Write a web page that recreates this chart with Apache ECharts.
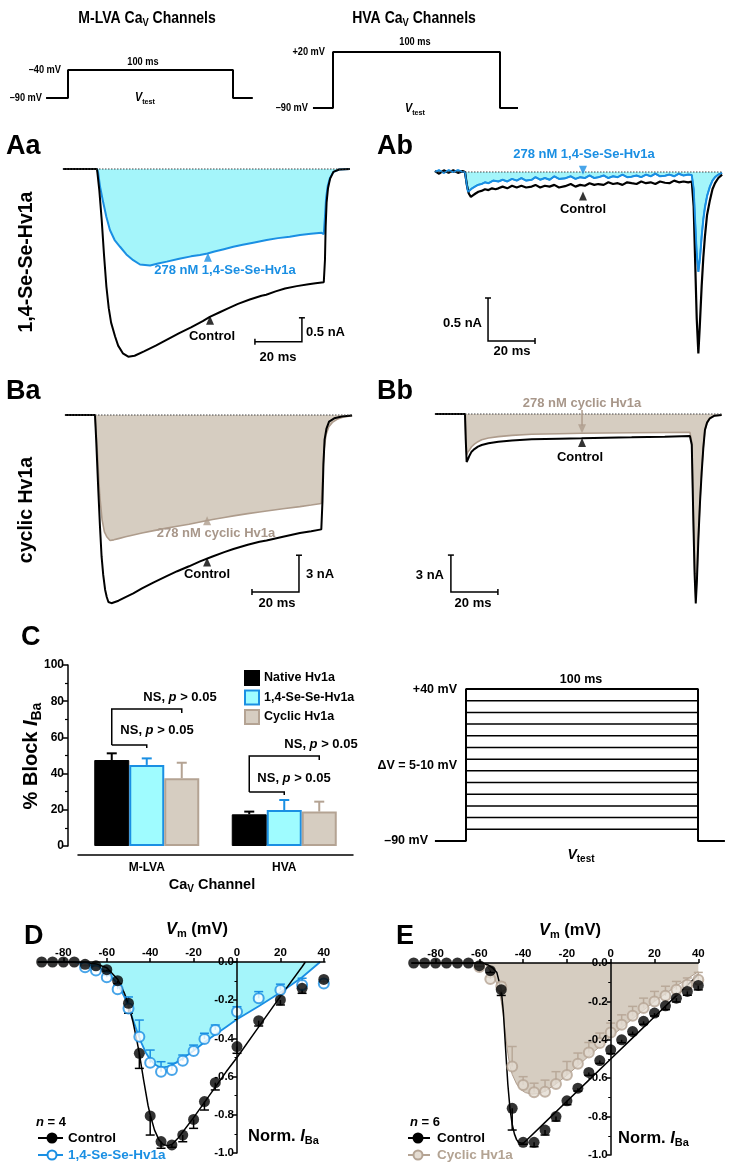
<!DOCTYPE html>
<html><head><meta charset="utf-8">
<script src="https://cdn.jsdelivr.net/npm/echarts@6/dist/echarts.min.js"></script>
<style>html,body{margin:0;padding:0;background:#fff}#c{width:731px;height:1169px}</style>
</head><body><div id="c"></div><script>
// ===== DATA =====
// Voltage protocols [time ms, mV]
const protoLVA = [[-13.3,-90],[0,-90],[0,-40],[100,-40],[100,-90],[112,-90]];
const protoHVA = [[-12,-90],[0,-90],[0,20],[100,20],[100,-90],[110.8,-90]];
const stepHold = -90, stepTop = 40, stepDur = 100, stepPre = -13.4, stepPost = 111.6;
const stepLevels = [-80,-70,-60,-50,-40,-30,-20,-10,0,10,20,30];

// Panel Aa traces [ms, nA]
const aaControl = [[-14.5,0],[0,0],[1,-0.45],[2,-1.06],[3,-1.8],[4,-2.45],[5,-2.9],[6,-3.2],[7.7,-3.49],[9,-3.68],[11,-3.84],[13.3,-3.91],[16,-3.89],[20,-3.8],[25,-3.68],[30,-3.55],[35,-3.42],[40,-3.3],[45,-3.17],[48,-3.08],[52,-2.99],[56,-2.9],[60,-2.81],[65,-2.72],[70,-2.64],[72,-2.62],[76,-2.55],[80,-2.49],[85,-2.44],[90,-2.4],[93,-2.38],[96.5,-2.36],[97,-1.9],[97.3,-1.2],[97.7,-0.7],[98.3,-0.4],[99.2,-0.2],[100.6,-0.06],[103,-0.01],[107.6,0]];
const aaSeSe = [[-14.5,0],[0,0],[0.5,-0.08],[1.3,-0.37],[2.7,-0.71],[4,-1.0],[5.5,-1.27],[7.5,-1.48],[9.8,-1.62],[12.5,-1.78],[15.4,-1.9],[18.3,-1.99],[22.6,-2.01],[26,-1.97],[29.7,-1.93],[35,-1.87],[40,-1.82],[43.8,-1.79],[47,-1.76],[50,-1.72],[54,-1.67],[58,-1.62],[62,-1.58],[67,-1.53],[72.2,-1.48],[77,-1.44],[82,-1.41],[86.4,-1.375],[91,-1.35],[95.6,-1.33],[96.5,-1.36],[97,-1.0],[97.5,-0.6],[98.2,-0.35],[99.2,-0.18],[100.6,-0.06],[103,-0.01],[107.6,0]];
// Panel Ab traces
const abControl = [[-12.8,0.01],[-11,-0.02],[-9,0.02],[-7,-0.01],[-5,0.02],[-3,-0.01],[-1,0.01],[0,0],[0.8,-0.15],[1.6,-0.25],[2.5,-0.29],[3.5,-0.27],[4.5,-0.25],[5.7,-0.23],[7,-0.22],[8.5,-0.2],[10,-0.21],[11.5,-0.19],[13,-0.2],[14.2,-0.19],[16,-0.17],[18,-0.19],[20,-0.16],[22,-0.18],[24,-0.16],[26,-0.18],[28.4,-0.17],[30,-0.15],[32,-0.18],[34,-0.16],[36,-0.17],[38,-0.15],[40,-0.18],[42.6,-0.165],[45,-0.14],[47,-0.17],[49,-0.15],[51,-0.16],[53,-0.13],[55,-0.15],[56.7,-0.14],[59,-0.15],[61,-0.12],[63,-0.14],[65,-0.13],[67,-0.15],[69,-0.12],[70.9,-0.13],[73,-0.14],[75,-0.11],[77,-0.13],[79,-0.12],[81,-0.14],[83,-0.11],[85.1,-0.125],[87,-0.13],[89,-0.1],[91,-0.12],[93,-0.11],[95,-0.12],[96.5,-0.11],[97.3,-0.4],[97.9,-1.0],[98.6,-1.7],[99.3,-2.11],[99.9,-1.8],[100.7,-1.33],[101.4,-1.0],[102.1,-0.75],[103,-0.5],[104.2,-0.33],[105.3,-0.2],[106.4,-0.13],[107.8,-0.07],[109.4,-0.03]];
const abSeSe = [[-12.8,0],[-11,0.02],[-9,-0.01],[-7,0.02],[-5,0],[-3,0.02],[-1,0],[0,0],[0.6,-0.12],[1.3,-0.23],[2,-0.22],[3,-0.19],[4.2,-0.17],[5.5,-0.15],[7,-0.14],[8.5,-0.12],[10,-0.13],[12,-0.1],[14.2,-0.11],[16,-0.09],[18,-0.11],[20,-0.08],[22,-0.1],[24,-0.07],[26,-0.1],[28.4,-0.09],[30,-0.06],[32,-0.09],[34,-0.07],[36,-0.09],[38,-0.05],[40,-0.08],[42.6,-0.074],[45,-0.05],[47,-0.08],[49,-0.06],[51,-0.07],[53,-0.04],[55,-0.07],[56.7,-0.062],[59,-0.04],[61,-0.07],[63,-0.05],[65,-0.06],[67,-0.03],[69,-0.06],[70.9,-0.054],[73,-0.04],[75,-0.06],[77,-0.03],[79,-0.05],[81,-0.02],[83,-0.05],[85.1,-0.043],[87,-0.03],[89,-0.05],[91,-0.02],[93,-0.04],[95,-0.03],[96.5,-0.035],[97.3,-0.2],[97.9,-0.56],[98.6,-0.95],[99.3,-1.16],[100,-1.0],[100.7,-0.75],[101.4,-0.55],[102.1,-0.41],[103,-0.28],[104.2,-0.17],[105.3,-0.1],[106.4,-0.06],[107.8,-0.03],[109.4,-0.01]];
// Panel Ba traces
const baControl = [[-12.8,0],[0,0],[0.5,-2],[1.4,-6.1],[2.1,-9],[2.8,-11.5],[3.5,-13],[4.3,-14.2],[5,-14.8],[5.7,-15.2],[7,-15.3],[7.8,-15.3],[10,-15.1],[13,-14.8],[16.3,-14.5],[20,-14.1],[25,-13.6],[30.5,-13.1],[35,-12.7],[40,-12.3],[44.7,-11.9],[50,-11.5],[55,-11.15],[58.9,-10.9],[65,-10.55],[70,-10.3],[73,-10.2],[80,-9.9],[87.2,-9.6],[92,-9.45],[96.3,-9.3],[96.8,-7],[97.2,-4],[97.7,-2],[98.5,-1.1],[99.6,-0.54],[101.8,-0.27],[105,-0.12],[109.4,-0.05]];
const baCyclic = [[-12.8,0],[0,0],[0.5,-1.5],[1,-3],[2,-6.5],[3,-8.5],[4,-9.5],[5,-9.9],[6.4,-10.2],[8,-10.15],[10,-10.05],[13,-9.9],[16.3,-9.75],[20,-9.6],[25,-9.4],[30.5,-9.2],[35,-9.05],[40,-8.88],[44.7,-8.7],[50,-8.5],[55,-8.33],[58.9,-8.2],[65,-8.02],[70,-7.88],[73,-7.8],[80,-7.62],[87.2,-7.45],[92,-7.32],[96.3,-7.2],[96.9,-5],[97.5,-2.8],[98.3,-1.6],[99.5,-0.95],[101,-0.6],[103,-0.35],[106,-0.15],[109.4,-0.05]];
// Panel Bb traces
const bbControl = [[-12.8,0],[0,0],[0.3,-2],[0.7,-3.9],[1.2,-3.7],[2,-3.35],[2.8,-3.06],[4,-2.85],[5.5,-2.65],[7.1,-2.52],[10,-2.38],[14.2,-2.25],[20,-2.15],[28.4,-2.06],[40,-2.01],[49.6,-1.98],[60,-1.94],[70.9,-1.9],[85,-1.84],[95.7,-1.79],[96.5,-2.5],[97.2,-8.9],[97.7,-13],[98.2,-15.4],[98.7,-13.5],[99.3,-10.2],[100,-7.2],[100.7,-4.8],[101.4,-2.8],[102.1,-1.3],[103,-0.7],[104.2,-0.35],[106,-0.15],[109.2,-0.08]];
const bbCyclic = [[-12.8,0],[0,0],[0.3,-1.6],[0.7,-3.3],[1.2,-3.1],[2,-2.9],[2.8,-2.66],[4,-2.45],[5.5,-2.25],[7.1,-2.1],[10,-1.95],[14.2,-1.84],[20,-1.74],[28.4,-1.65],[40,-1.6],[49.6,-1.57],[60,-1.55],[70.9,-1.52],[85,-1.5],[95.7,-1.49],[96.5,-2.3],[97.2,-8.5],[97.7,-12.5],[98.2,-15.0],[98.7,-13.2],[99.3,-10],[100,-7],[100.7,-4.6],[101.4,-2.7],[102.1,-1.3],[103,-0.7],[104.2,-0.35],[106,-0.15],[109.2,-0.08]];
// Arrow markers on traces [ms, nA]
const aaMarkSeSe = [47.2,-1.84], aaMarkCtl = [48.1,-3.15];
const abMarkSeSe = [50.2,0.02], abMarkCtl = [50.2,-0.28];
const baMarkCyc = [47.7,-8.6], baMarkCtl = [47.7,-11.95];
const bbArrowCyc = [[49.8,0.33],[49.8,-0.95]], bbArrowHead = [49.8,-1.2], bbMarkCtl = [49.8,-2.32];
// Scale bars: [corner ms, corner nA, dt ms, dI nA]
const sbAa = [87.2,-3.6,-20,0.5], sbAb = [9.8,-1.965,20,0.5], sbBa = [86.8,-14.4,-20,3], sbBb = [-6,-14.47,20,3];

// Panel C
const cCategories = ['M-LVA','HVA'];
const cNative = [47.5,17.5], cNativeErr = [3.7,1.5];
const cSeSe = [44.8,19.9], cSeSeErr = [3.6,5.5];
const cCyclic = [37.4,19.0], cCyclicErr = [8.6,5.5];
// brackets: [category, fromBar, toBar, vStart, vTop, vEnd]
const cBrackets = [[0,0,2,55.8,75.7,73.5],[0,0,1,55.8,55.8,54.1],[1,0,2,29.8,49.7,47.5],[1,0,1,29.8,29.8,28.2]];

// Panel D (I-V, 1,4-Se-Se-Hv1a)
const dVc = [-90,-85,-80,-75,-70,-65,-60,-55,-50,-45,-40,-35,-30,-25,-20,-15,-10,0,10,20,30,40];
const dControl = [0,0,0,0,-0.012,-0.02,-0.04,-0.098,-0.216,-0.478,-0.806,-0.94,-0.958,-0.906,-0.824,-0.731,-0.632,-0.443,-0.307,-0.199,-0.138,-0.091];
const dControlErr = [0,0,0,0,0.005,0.005,0.008,0.015,0.052,0.079,0.1,0.035,0.012,0.035,0.047,0.044,0.038,0.035,0.028,0.026,0.026,0.012];
const dVs = [-70,-65,-60,-55,-50,-45,-40,-35,-30,-25,-20,-15,-10,0,10,20,30,40];
const dSeSe = [-0.028,-0.045,-0.08,-0.143,-0.243,-0.391,-0.527,-0.574,-0.565,-0.517,-0.466,-0.403,-0.356,-0.26,-0.19,-0.147,-0.12,-0.112];
const dSeSeErr = [0.005,0.01,0.01,0.02,0.06,0.087,0.066,0.052,0.035,0.03,0.031,0.03,0.026,0.026,0.035,0.031,0.035,0.017];
const dControlFit = [[-91.7,0],[-75,0],[-70,-0.003],[-65,-0.01],[-60,-0.03],[-55,-0.09],[-52,-0.16],[-50,-0.22],[-48,-0.31],[-46,-0.42],[-45,-0.48],[-43,-0.62],[-41,-0.75],[-40,-0.8],[-38,-0.88],[-36,-0.93],[-34,-0.955],[-32,-0.962],[-30,-0.955],[-27,-0.92],[-25,-0.89],[-20,-0.815],[-15,-0.735],[-10,-0.655],[-5,-0.575],[0,-0.5],[10,-0.34],[20,-0.18],[30,-0.025],[31.5,0]];
const dSeSeFit = [[-91.7,0],[-75,0],[-70,-0.008],[-65,-0.022],[-60,-0.05],[-55,-0.115],[-52,-0.18],[-50,-0.235],[-48,-0.3],[-46,-0.365],[-44,-0.425],[-42,-0.475],[-40,-0.51],[-38,-0.535],[-36,-0.548],[-34,-0.552],[-32,-0.548],[-30,-0.54],[-25,-0.505],[-20,-0.465],[-15,-0.42],[-10,-0.38],[-5,-0.34],[0,-0.3],[10,-0.232],[20,-0.16],[30,-0.08],[38.3,0]];

// Panel E (I-V, cyclic Hv1a)
const eVc = [-90,-85,-80,-75,-70,-65,-60,-55,-50,-45,-40,-35,-30,-25,-20,-15,-10,-5,0,5,10,15,20,25,30,35,40];
const eControl = [0,0,0,0,0,0,-0.014,-0.04,-0.139,-0.757,-0.934,-0.934,-0.87,-0.8,-0.718,-0.652,-0.57,-0.508,-0.452,-0.4,-0.357,-0.304,-0.261,-0.223,-0.183,-0.148,-0.117];
const eControlErr = [0,0,0,0,0,0,0.005,0.01,0.03,0.113,0.01,0.023,0.026,0.023,0.02,0.015,0.015,0.015,0.02,0.015,0.015,0.015,0.015,0.02,0.02,0.02,0.023];
const eVs = [-60,-55,-50,-45,-40,-35,-30,-25,-20,-15,-10,-5,0,5,10,15,20,25,30,35,40];
const eCyclic = [-0.021,-0.083,-0.122,-0.539,-0.635,-0.673,-0.67,-0.63,-0.583,-0.525,-0.466,-0.417,-0.362,-0.322,-0.275,-0.235,-0.2,-0.17,-0.139,-0.113,-0.087];
const eCyclicErr = [0.005,0.01,0.02,0.104,0.043,0.047,0.06,0.064,0.07,0.056,0.052,0.052,0.049,0.052,0.049,0.052,0.052,0.049,0.043,0.035,0.038];
const eControlFit = [[-90.9,0],[-60,0],[-58,-0.003],[-56,-0.01],[-54,-0.025],[-52,-0.05],[-50,-0.14],[-49,-0.26],[-48,-0.45],[-47,-0.63],[-46,-0.76],[-45,-0.84],[-44,-0.89],[-43,-0.92],[-42,-0.935],[-40,-0.94],[-30,-0.83],[-20,-0.72],[-10,-0.61],[0,-0.5],[10,-0.39],[20,-0.28],[30,-0.17],[40,-0.061]];
const eCyclicFit = [[-90.9,0],[-60,0],[-57,-0.01],[-55,-0.04],[-53,-0.08],[-51,-0.14],[-50,-0.2],[-49,-0.28],[-48,-0.38],[-47,-0.47],[-46,-0.54],[-45,-0.58],[-43,-0.63],[-41,-0.66],[-39,-0.675],[-36,-0.683],[-33,-0.68],[-30,-0.668],[-25,-0.63],[-20,-0.585],[-15,-0.535],[-10,-0.485],[-5,-0.435],[0,-0.385],[10,-0.29],[20,-0.2],[30,-0.12],[40,-0.045]];
const ivTicks = [-80,-60,-40,-20,0,20,40];

// ===== STYLE =====
const F = '"Liberation Sans", Arial, Helvetica, sans-serif';
const BLUE = '#1a8fe3', CYAN = '#a4f5fa', BARCYAN = '#9ffcff';
const BROWN = '#ae9c8c', BROWNT = '#a8978a', BEIGE = '#d6cdc1', BARBROWN = '#b4a393';

// layout helper: pixel frame -> grid + axis range
function place(left, right, x0, pxX, yRefPx, yRefVal, pxY, yMin, yMax) {
  return {grid:{left:left, width:right-left, top:yRefPx-(yMax-yRefVal)*pxY, height:(yMax-yMin)*pxY},
          xmin:(left-x0)/pxX, xmax:(right-x0)/pxX, ymin:yMin, ymax:yMax};
}
const frames = [
  place(46,253,68,1.65,98,-90,0.56,-95,-35),     // 0 LVA protocol
  place(313,517,333,1.67,108,-90,0.509,-95,25),  // 1 HVA protocol
  place(63,350,97,2.35,169,0,48,-4.2,0.3),       // 2 Aa
  place(435,722,465,2.35,172,0,86,-2.3,0.2),     // 3 Ab
  place(65,352,95,2.35,415,0,12.3,-16.5,1),      // 4 Ba
  place(435,722,465,2.35,414,0,12.3,-16.5,1),    // 5 Bb
  null,                                          // 6 C
  place(435,725,466,2.32,841,-90,1.169,-95,45)   // 7 step family
];
const grids = [], xAxes = [], yAxes = [];
frames.forEach((f,i) => {
  if (!f) return;
  grids[i] = f.grid;
  xAxes[i] = {type:'value', gridIndex:i, min:f.xmin, max:f.xmax, show:false};
  yAxes[i] = {type:'value', gridIndex:i, min:f.ymin, max:f.ymax, show:false};
});
const lbl = {color:'#000', fontWeight:'bold', fontFamily:F};
// C
grids[6] = {left:78, width:275, top:665, height:181};
xAxes[6] = {type:'category', gridIndex:6, data:cCategories, offset:9,
  axisLine:{onZero:false, lineStyle:{color:'#000', width:1.5}}, axisTick:{show:false},
  axisLabel:Object.assign({fontSize:12, margin:7}, lbl)};
yAxes[6] = {type:'value', gridIndex:6, min:0, max:100, interval:20, offset:10,
  axisLine:{show:true, onZero:false, lineStyle:{color:'#000', width:1.5}},
  axisTick:{show:true, length:5, lineStyle:{color:'#000', width:1.5}},
  minorTick:{show:true, splitNumber:2, length:3, lineStyle:{color:'#000', width:1.2}},
  splitLine:{show:false}, axisLabel:Object.assign({fontSize:12, margin:4}, lbl)};
// D, E : y axis placed at V = 0 through an inward offset
function ivAxes(gi, left, right, min, max, top, height) {
  const w = right - left;
  grids[gi] = {left:left, width:w, top:top, height:height};
  xAxes[gi] = {type:'value', gridIndex:gi, min:min, max:max, position:'top', z:10,
    axisLine:{show:true, onZero:false, lineStyle:{color:'#000', width:1.5}},
    axisTick:{show:true, length:4, customValues:ivTicks, lineStyle:{color:'#000', width:1.5}},
    axisLabel:Object.assign({customValues:ivTicks, fontSize:11.5, margin:3}, lbl), splitLine:{show:false}};
  yAxes[gi] = {type:'value', gridIndex:gi, min:-1, max:0, interval:0.2, z:10,
    offset: -w * (0 - min) / (max - min),
    axisLine:{show:true, onZero:false, lineStyle:{color:'#000', width:1.5}},
    axisTick:{show:true, length:4, lineStyle:{color:'#000', width:1.5}},
    minorTick:{show:true, splitNumber:2, length:2.5, lineStyle:{color:'#000', width:1}},
    axisLabel:Object.assign({fontSize:11.5, margin:3, formatter:v => v.toFixed(1)}, lbl), splitLine:{show:false}};
}
ivAxes(8, 38, 325, -91.7, 40.55, 962, 191);
ivAxes(9, 411.7, 698.3, -90.9, 40, 963, 192);

// ===== SERIES =====
const series = [];
function line(gi, data, color, width, extra) {
  series.push(Object.assign({type:'line', xAxisIndex:gi, yAxisIndex:gi, data:data, symbol:'none', silent:true,
    animation:false, lineStyle:{color:color, width:width}}, extra||{}));
}
function mark(gi, pt, color, down) {
  series.push({type:'scatter', xAxisIndex:gi, yAxisIndex:gi, data:[pt], symbol:'triangle', symbolSize:[8,9],
    symbolRotate:down?180:0, itemStyle:{color:color}, silent:true, z:8, clip:false});
}
function scaleBar(gi, sb) {
  series.push({type:'custom', xAxisIndex:gi, yAxisIndex:gi, clip:false, z:6, silent:true, data:[sb],
    renderItem:function(p, api){
      const t=api.value(0), v=api.value(1), dT=api.value(2), dV=api.value(3);
      const c=api.coord([t,v]), h=api.coord([t+dT,v]), w=api.coord([t,v+dV]);
      const L={stroke:'#000', lineWidth:1.5};
      return {type:'group', children:[
        {type:'polyline', shape:{points:[h,c,w]}, style:{stroke:'#000', lineWidth:1.5, fill:null}},
        {type:'line', shape:{x1:h[0],y1:h[1]-3,x2:h[0],y2:h[1]+3}, style:L},
        {type:'line', shape:{x1:w[0]-3,y1:w[1],x2:w[0]+3,y2:w[1]}, style:L}]};
    }});
}
function baseline(gi) {
  const f = frames[gi];
  line(gi, [[f.xmin,0],[f.xmax,0]], '#444', 1, {lineStyle:{color:'#444', width:1, type:[1.5,1.5]}, z:7});
}
// protocols
line(0, protoLVA, '#000', 2);
line(1, protoHVA, '#000', 2);
// step family
line(7, [[stepPre,stepHold],[0,stepHold],[0,stepTop],[stepDur,stepTop],[stepDur,stepHold],[stepPost,stepHold]], '#000', 2);
stepLevels.forEach(v => line(7, [[0,v],[stepDur,v]], '#000', 1.5));
// Aa
line(2, aaSeSe, BLUE, 2, {areaStyle:{color:CYAN, opacity:1}, z:2});
line(2, aaControl, '#000', 2, {z:3});
baseline(2); mark(2, aaMarkSeSe, BLUE, false); mark(2, aaMarkCtl, '#000', false); scaleBar(2, sbAa);
// Ab
line(3, abSeSe, BLUE, 2, {areaStyle:{color:CYAN, opacity:1}, z:2});
line(3, abControl, '#000', 2.2, {z:3});
line(3, abSeSe, BLUE, 1.6, {z:4});
baseline(3); mark(3, abMarkSeSe, BLUE, true); mark(3, abMarkCtl, '#000', false); scaleBar(3, sbAb);
// Ba
line(4, baCyclic, BROWN, 1.6, {areaStyle:{color:BEIGE, opacity:1}, z:2});
line(4, baControl, '#000', 2, {z:3});
baseline(4); mark(4, baMarkCyc, BROWN, false); mark(4, baMarkCtl, '#000', false); scaleBar(4, sbBa);
// Bb
line(5, bbCyclic, BROWN, 1.6, {areaStyle:{color:BEIGE, opacity:1}, z:2});
line(5, bbControl, '#000', 2, {z:3});
baseline(5); line(5, bbArrowCyc, BROWN, 1.5, {z:8}); mark(5, bbArrowHead, BROWN, true); mark(5, bbMarkCtl, '#000', false); scaleBar(5, sbBb);

// C bars
const barOff = [-35, 0, 35], barCol = ['#000', BLUE, BARBROWN];
series.push({type:'bar', name:'Native Hv1a', xAxisIndex:6, yAxisIndex:6, data:cNative, barWidth:35, barGap:'0%',
  itemStyle:{color:'#000', borderColor:'#000', borderWidth:1}, silent:true});
series.push({type:'bar', name:'1,4-Se-Se-Hv1a', xAxisIndex:6, yAxisIndex:6, data:cSeSe, barWidth:35, barGap:'0%',
  itemStyle:{color:BARCYAN, borderColor:BLUE, borderWidth:2}, silent:true});
series.push({type:'bar', name:'Cyclic Hv1a', xAxisIndex:6, yAxisIndex:6, data:cCyclic, barWidth:35, barGap:'0%',
  itemStyle:{color:BEIGE, borderColor:BARBROWN, borderWidth:2}, silent:true});
const cErrData = [];
[[cNative,cNativeErr],[cSeSe,cSeSeErr],[cCyclic,cCyclicErr]].forEach((pair,b) =>
  cCategories.forEach((c,i) => cErrData.push([i, pair[0][i], pair[1][i], b])));
series.push({type:'custom', xAxisIndex:6, yAxisIndex:6, clip:false, z:1, silent:true, data:cErrData,
  renderItem:function(p, api){
    const b=api.value(3), p0=api.coord([api.value(0), api.value(1)]), p1=api.coord([api.value(0), api.value(1)+api.value(2)]);
    const x=p0[0]+barOff[b], st={stroke:barCol[b], lineWidth:2};
    return {type:'group', children:[
      {type:'line', shape:{x1:x,y1:p0[1],x2:x,y2:p1[1]}, style:st},
      {type:'line', shape:{x1:x-5,y1:p1[1],x2:x+5,y2:p1[1]}, style:st}]};
  }});
series.push({type:'custom', xAxisIndex:6, yAxisIndex:6, clip:false, z:5, silent:true, data:cBrackets,
  renderItem:function(p, api){
    const cat=api.value(0), a=api.value(1), b=api.value(2);
    const s=api.coord([cat, api.value(3)]), t=api.coord([cat, api.value(4)]), e=api.coord([cat, api.value(5)]);
    const xa=s[0]+barOff[a], xb=s[0]+barOff[b];
    return {type:'polyline', shape:{points:[[xa,s[1]],[xa,t[1]],[xb,t[1]],[xb,e[1]]]}, style:{stroke:'#000', lineWidth:1.5, fill:null}};
  }});

// I-V panels
function errSeries(gi, xs, ys, es, dir, color, z) {
  series.push({type:'custom', xAxisIndex:gi, yAxisIndex:gi, clip:false, z:z, silent:true,
    data:xs.map((x,i)=>[x, ys[i], es[i]]),
    renderItem:function(p, api){
      const x=api.value(0), y=api.value(1), e=api.value(2);
      if (!e) return null;
      const p0=api.coord([x,y]), p1=api.coord([x,y+dir*e]), st={stroke:color, lineWidth:1.5};
      return {type:'group', children:[
        {type:'line', shape:{x1:p0[0],y1:p0[1],x2:p1[0],y2:p1[1]}, style:st},
        {type:'line', shape:{x1:p1[0]-4.5,y1:p1[1],x2:p1[0]+4.5,y2:p1[1]}, style:st}]};
    }});
}
function pts(gi, xs, ys, style, size, z) {
  series.push({type:'scatter', xAxisIndex:gi, yAxisIndex:gi, data:xs.map((x,i)=>[x,ys[i]]), symbol:'circle',
    symbolSize:size, itemStyle:style, z:z, clip:false, silent:true});
}
// D
line(8, dSeSeFit, BLUE, 1.8, {areaStyle:{color:CYAN, opacity:1}, z:1});
line(8, dControlFit, '#000', 1.5, {z:3});
errSeries(8, dVs, dSeSe, dSeSeErr, 1, BLUE, 4);
errSeries(8, dVc, dControl, dControlErr, -1, '#000', 4);
pts(8, dVs, dSeSe, {color:'#fff', borderColor:BLUE, borderWidth:2}, 10, 5);
pts(8, dVc, dControl, {color:'#000'}, 11, 6);
// E
line(9, eCyclicFit, BROWN, 1, {areaStyle:{color:BEIGE, opacity:1}, z:1});
line(9, eControlFit, '#000', 1.5, {z:3});
errSeries(9, eVs, eCyclic, eCyclicErr, 1, '#b9a999', 4);
errSeries(9, eVc, eControl, eControlErr, -1, '#000', 4);
pts(9, eVs, eCyclic, {color:'#e4dcd2', borderColor:'#b5a494', borderWidth:2}, 10, 5);
pts(9, eVc, eControl, {color:'#000'}, 11, 6);

// ===== TEXT (graphic) =====
const G = [];
function rich(fs, col) { return {
  n:{fontSize:fs, fontWeight:'bold', fontFamily:F, fill:col},
  i:{fontSize:fs, fontWeight:'bold', fontStyle:'italic', fontFamily:F, fill:col},
  s:{fontSize:Math.round(fs*0.68), fontWeight:'bold', fontFamily:F, fill:col, padding:[Math.round(fs*0.62),0,0,0]}}; }
function T(x, y, text, o) { o=o||{}; const fs=o.fs||13, col=o.color||'#000';
  G.push({type:'text', x:x, y:y, rotation:o.rot||0, scaleX:o.sx||1, z:100, silent:true,
    style:{text:text, fill:col, fontSize:fs, fontWeight:'bold', fontFamily:F, align:o.align||'center',
      verticalAlign:o.va||'middle', rich:rich(fs,col)}}); }
const R90 = Math.PI/2;
T(147,18,'{n|M-LVA Ca}{s|V}{n| Channels}',{fs:16.5, sx:0.85});
T(414,18,'{n|HVA Ca}{s|V}{n| Channels}',{fs:16.5, sx:0.85});
T(61,70,'–40 mV',{fs:10.5, sx:0.88, align:'right'});
T(42,98,'–90 mV',{fs:10.5, sx:0.88, align:'right'});
T(143,62,'100 ms',{fs:10.5, sx:0.88});
T(145,98,'{i|V}{s|test}',{fs:12, sx:0.9});
T(325,52,'+20 mV',{fs:10.5, sx:0.88, align:'right'});
T(308,108,'–90 mV',{fs:10.5, sx:0.88, align:'right'});
T(415,42,'100 ms',{fs:10.5, sx:0.88});
T(415,109,'{i|V}{s|test}',{fs:12, sx:0.9});
[['Aa',6,147],['Ab',377,147],['Ba',6,392],['Bb',377,392],['C',21,638],['D',24,937],['E',396,937]].forEach(a => T(a[1],a[2],a[0],{fs:27, align:'left'}));
T(27,262,'1,4-Se-Se-Hv1a',{fs:19.5, rot:R90});
T(27,510,'cyclic Hv1a',{fs:19.5, rot:R90});
T(225,270,'278 nM 1,4-Se-Se-Hv1a',{color:BLUE});
T(212,336,'Control');
T(306,332,'0.5 nA',{align:'left'}); T(278,357,'20 ms');
T(584,154,'278 nM 1,4-Se-Se-Hv1a',{color:BLUE});
T(583,209,'Control');
T(482,323,'0.5 nA',{align:'right'}); T(512,351,'20 ms');
T(216,533,'278 nM cyclic Hv1a',{color:BROWNT});
T(207,574,'Control');
T(306,574,'3 nA',{align:'left'}); T(277,603,'20 ms');
T(582,403,'278 nM cyclic Hv1a',{color:BROWNT});
T(580,457,'Control');
T(444,575,'3 nA',{align:'right'}); T(473,603,'20 ms');
// C
const NS = '{n|NS, }{i|p}{n| > 0.05}';
T(180,697,NS); T(157,730,NS); T(321,744,NS); T(294,778,NS);
T(212,885,'{n|Ca}{s|V}{n| Channel}',{fs:14.5});
T(31,756,'{n|% Block }{i|I}{s|Ba}',{fs:20, rot:R90});
// step protocol
T(457,690,'+40 mV',{fs:12.5, align:'right'});
T(457,766,'ΔV = 5-10 mV',{fs:12.5, align:'right'});
T(428,841,'–90 mV',{fs:12.5, align:'right'});
T(581,680,'100 ms',{fs:12.5});
T(581,855,'{i|V}{s|test}',{fs:14});
// D / E labels and legends
T(197,929,'{i|V}{s|m}{n| (mV)}',{fs:16.5});
T(248,1136,'{n|Norm. }{i|I}{s|Ba}',{fs:16.5, align:'left'});
T(36,1122,'{i|n}{n| = 4}',{fs:13, align:'left'});
T(570,930,'{i|V}{s|m}{n| (mV)}',{fs:16.5});
T(618,1138,'{n|Norm. }{i|I}{s|Ba}',{fs:16.5, align:'left'});
T(410,1122,'{i|n}{n| = 6}',{fs:13, align:'left'});
function legItem(x0, x1, cx, y, tx, text, lc, circ, tcol) {
  G.push({type:'line', shape:{x1:x0,y1:y,x2:x1,y2:y}, style:{stroke:lc, lineWidth:2}, z:100, silent:true});
  G.push({type:'circle', shape:{cx:cx, cy:y, r:circ.r}, style:circ.style, z:101, silent:true});
  T(tx, y, text, {fs:13.5, align:'left', color:tcol});
}
legItem(38,63,52,1138,68,'Control','#000',{r:5.5, style:{fill:'#000'}},'#000');
legItem(38,63,52,1155,68,'1,4-Se-Se-Hv1a',BLUE,{r:4.5, style:{fill:'#fff', stroke:BLUE, lineWidth:2}},BLUE);
legItem(408,430,418,1138,437,'Control','#000',{r:5.5, style:{fill:'#000'}},'#000');
legItem(408,430,418,1155,437,'Cyclic Hv1a','#b5a494',{r:4.5, style:{fill:'#e4dcd2', stroke:'#b5a494', lineWidth:2}},'#b3a393');

const option = {
  animation:false, backgroundColor:'#fff',
  grid: grids, xAxis: xAxes, yAxis: yAxes, series: series,
  legend: {data:['Native Hv1a','1,4-Se-Se-Hv1a','Cyclic Hv1a'], orient:'vertical', left:239, top:665,
    itemWidth:14, itemHeight:14, itemGap:3.5, icon:'rect', selectedMode:false,
    textStyle:{fontWeight:'bold', fontSize:12.5, fontFamily:F, color:'#000'}},
  graphic: {elements: G}
};
const chart = echarts.init(document.getElementById('c'), null, {renderer:'canvas'});
chart.setOption(option);
</script></body></html>
